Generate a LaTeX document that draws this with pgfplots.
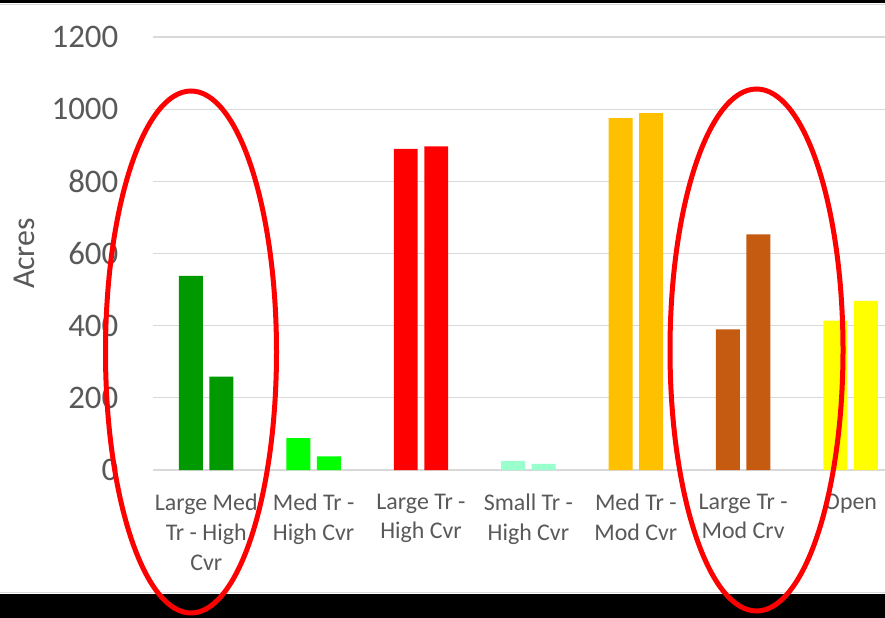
\documentclass[border=0pt]{standalone}
\usepackage{pgfplots}
\pgfplotsset{compat=1.18}
\usepackage{fontspec}
\setmainfont{Carlito}
\definecolor{gridgray}{HTML}{D9D9D9}
\definecolor{txtgray}{HTML}{595959}
\definecolor{cA}{HTML}{009900}
\definecolor{cB}{HTML}{00FF00}
\definecolor{cC}{HTML}{FF0000}
\definecolor{cD}{HTML}{99FFCC}
\definecolor{cE}{HTML}{FFC000}
\definecolor{cF}{HTML}{C55A11}
\definecolor{cG}{HTML}{FFFF00}
\begin{document}
\begin{tikzpicture}
\useasboundingbox (0,0) rectangle (885bp,618bp);
\fill[white] (0,0) rectangle (885bp,618bp);
\clip (0,0) rectangle (885bp,618bp);
\begin{axis}[
  at={(152.5bp,148bp)}, anchor=south west,
  scale only axis, width=751.8bp, height=433bp,
  xmin=-0.5, xmax=6.5, ymin=0, ymax=1200,
  ytick={0,200,...,1200},
  xtick={0,1,2,3,4,5,6},
  xticklabels={{Large Med\\Tr - High\\Cvr},{Med Tr -\\High Cvr},{Large Tr -\\High Cvr},{Small Tr -\\High Cvr},{Med Tr -\\Mod Cvr},{Large Tr -\\Mod Crv},{Open}},
  major tick length=0pt,
  axis line style={draw=none},
  ymajorgrids, grid style={gridgray, line width=1.2bp},
  /pgf/number format/assume math mode=true,
  /pgf/number format/1000 sep={},
  yticklabel style={font=\fontsize{33}{40}\selectfont, text=txtgray, inner sep=0pt, anchor=east, xshift=-34bp},
  xticklabel style={font=\fontsize{24}{30}\selectfont, text=txtgray, inner sep=0pt, align=center, anchor=north, yshift=-23.5bp},
  ylabel={Acres},
  ylabel style={at={(rel axis cs:-0.171,0.5)}, anchor=center, font=\fontsize{32}{38}\selectfont, text=txtgray},
  clip=false,
]
\addplot[ybar, bar width=0.223, bar shift=0, fill=cA, draw=none] coordinates {(-0.142,538) (0.142,259)};
\addplot[ybar, bar width=0.223, bar shift=0, fill=cB, draw=none] coordinates {(0.858,88) (1.142,38)};
\addplot[ybar, bar width=0.223, bar shift=0, fill=cC, draw=none] coordinates {(1.858,890) (2.142,897)};
\addplot[ybar, bar width=0.223, bar shift=0, fill=cD, draw=none] coordinates {(2.858,25) (3.142,17)};
\addplot[ybar, bar width=0.223, bar shift=0, fill=cE, draw=none] coordinates {(3.858,975) (4.142,989)};
\addplot[ybar, bar width=0.223, bar shift=0, fill=cF, draw=none] coordinates {(4.858,390) (5.142,653)};
\addplot[ybar, bar width=0.223, bar shift=0, fill=cG, draw=none] coordinates {(5.858,414) (6.142,469)};
\end{axis}
% frame bands
\fill[black] (0,615bp) rectangle (885bp,618bp);
\draw[gridgray, line width=1bp] (0,613.5bp) -- (885bp,613.5bp);
\fill[black] (0,0) rectangle (885bp,24bp);
\draw[gridgray, line width=1bp] (0,25.5bp) -- (885bp,25.5bp);
% annotation ellipses
\draw[red, line width=5bp] (191bp,266bp) ellipse [x radius=85.5bp, y radius=261bp];
\draw[red, line width=5bp] (756.5bp,268bp) ellipse [x radius=86.5bp, y radius=261bp];
\end{tikzpicture}
\end{document}
